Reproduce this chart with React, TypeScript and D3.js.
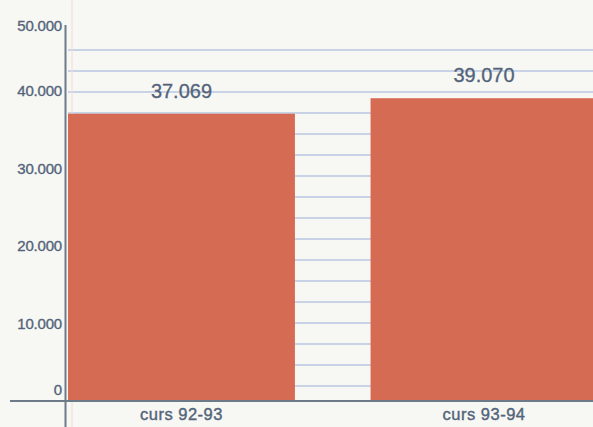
import React from "react";
import * as d3 from "d3";

const categories = ["curs 92-93", "curs 93-94"];
const values = [37069, 39070];
const valueLabels = ["37.069", "39.070"];
const yTicks = [0, 10000, 20000, 30000, 40000, 50000];
const yTickLabels = ["0", "10.000", "20.000", "30.000", "40.000", "50.000"];

const W = 593;
const H = 427;

export default function App() {
  const x = d3
    .scaleBand<string>()
    .domain(categories)
    .range([68, 597.5])
    .paddingInner(0.25)
    .paddingOuter(0);
  const y = d3.scaleLinear().domain([0, 50000]).range([401, 13.5]);

  const axisTop = 25;
  const baseY = y(0);
  const rules = d3.range(17).map((i) => 50 + i * 21);

  const textColor = "#53647a";
  const font = "'Liberation Sans', Arial, sans-serif";

  return (
    <svg
      width={W}
      height={H}
      style={{ position: "fixed", left: 0, top: 0, display: "block" }}
      fontFamily={font}
    >
      <rect x={0} y={0} width={W} height={H} fill="#f7f7f4" />
      {/* ruled paper lines */}
      {rules.map((ry, i) => (
        <line key={i} x1={68} x2={W} y1={ry} y2={ry} stroke="#b9c9e0" strokeWidth={1.3} />
      ))}
      <line x1={72} x2={72} y1={0} y2={H} stroke="#f1dcd4" strokeWidth={1} />
      {/* bars */}
      {values.map((v, i) => (
        <rect
          key={i}
          x={x(categories[i])}
          y={y(v)}
          width={x.bandwidth()}
          height={baseY - y(v)}
          fill="#d66b54"
        />
      ))}
      {/* value labels */}
      {values.map((v, i) => (
        <text
          key={i}
          x={(x(categories[i]) as number) + x.bandwidth() / 2}
          y={y(v) - 16}
          textAnchor="middle"
          fontSize={20}
          fill={textColor}
          stroke={textColor}
          strokeWidth={0.3}
        >
          {valueLabels[i]}
        </text>
      ))}
      {/* axes */}
      <line x1={10} x2={W} y1={baseY} y2={baseY} stroke="#6d7a88" strokeWidth={2} />
      <line x1={65.5} x2={65.5} y1={axisTop} y2={H} stroke="#6d7a88" strokeWidth={2} />
      {/* y tick labels */}
      {yTicks.map((t, i) => {
        const cy = Math.min(Math.max(y(t), axisTop + 1), baseY - 11);
        return (
          <text
            key={i}
            x={62}
            y={cy}
            dy="0.35em"
            textAnchor="end"
            fontSize={15}
            letterSpacing={-0.2}
            fill={textColor}
            stroke={textColor}
            strokeWidth={0.35}
          >
            {yTickLabels[i]}
          </text>
        );
      })}
      {/* category labels */}
      {categories.map((c, i) => (
        <text
          key={i}
          x={(x(c) as number) + x.bandwidth() / 2}
          y={420}
          textAnchor="middle"
          fontSize={16.5}
          letterSpacing={0.5}
          fill={textColor}
          stroke={textColor}
          strokeWidth={0.4}
        >
          {c}
        </text>
      ))}
    </svg>
  );
}
